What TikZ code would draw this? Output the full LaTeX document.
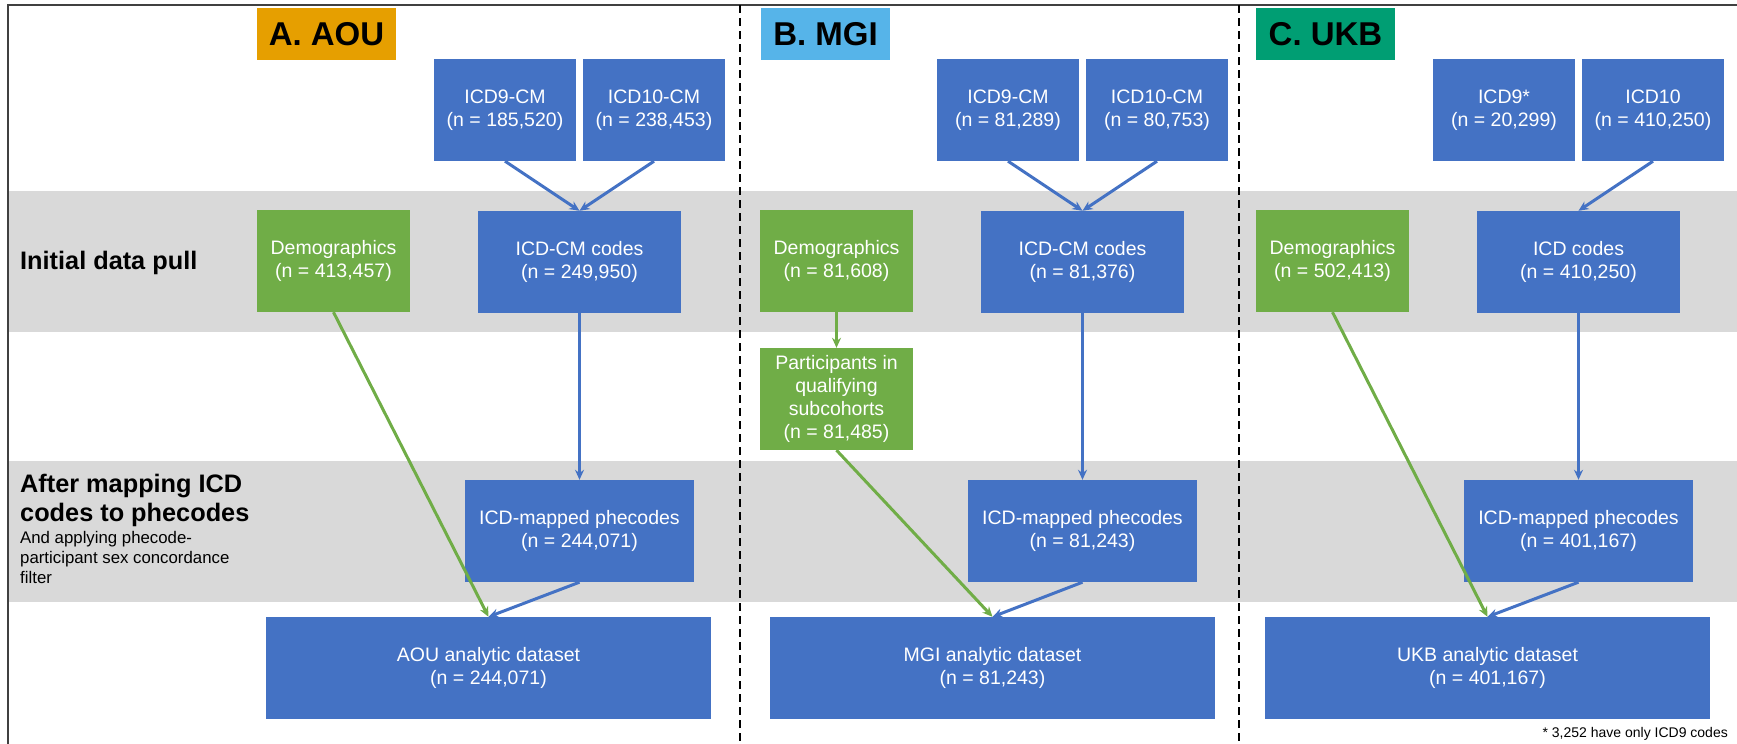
\documentclass[tikz,border=0pt]{standalone}
\usepackage{fontspec}
\setmainfont{Liberation Sans}
\usetikzlibrary{arrows.meta}
\definecolor{boxblue}{HTML}{4472C4}
\definecolor{boxgreen}{HTML}{70AD47}
\definecolor{bandgrey}{HTML}{D9D9D9}
\definecolor{aouorange}{HTML}{E69F00}
\definecolor{mgiblue}{HTML}{56B4E9}
\definecolor{ukbgreen}{HTML}{009E73}
\begin{document}
\begin{tikzpicture}[x=1pt, y=-1pt,
	bluebox/.style={fill=boxblue, text=white, align=center, inner sep=0pt, minimum height=102pt, font=\fontsize{19.5}{23}\selectfont},
	greenbox/.style={bluebox, fill=boxgreen},
	title/.style={inner sep=0pt, minimum height=52pt, font=\fontsize{33}{36}\selectfont\bfseries},
	bluearrow/.style={draw=boxblue, line width=3pt, -{Stealth[length=10pt,width=9pt]}},
	greenarrow/.style={bluearrow, draw=boxgreen},
	divider/.style={line width=2pt, dash pattern=on 8pt off 5pt},
	rowlabel/.style={anchor=north west, inner sep=0pt, align=left, font=\fontsize{25.3}{28.5}\selectfont\bfseries}]
	\useasboundingbox (0,0) rectangle (1737,744);
	% bands and frame
	\fill[bandgrey] (8,191) rectangle (1737,332);
	\fill[bandgrey] (8,461) rectangle (1737,602);
	\draw[line width=2pt, black!75] (8,744) -- (8,5) -- (1737,5);
	\draw[divider] (740,5) -- (740,744);
	\draw[divider] (1239,5) -- (1239,744);
	% row labels
	\node[rowlabel, anchor=west] (initial) at (20,263) {Initial data pull};
	\node[rowlabel] (mapping) at (20,474) {After mapping ICD\\codes to phecodes};
	\node[anchor=north west, inner sep=0pt, align=left, font=\fontsize{16.8}{20}\selectfont] (filter) at (20,531) {And applying phecode-\\participant sex concordance\\filter};
	% A. AOU
	\node[title, fill=aouorange, minimum width=139pt] (A_title) at (326.5,34) {A. AOU};
	\node[bluebox, minimum width=142pt] (A_icd9) at (505,110) {ICD9-CM\\(n = 185,520)};
	\node[bluebox, minimum width=142pt] (A_icd10) at (654,110) {ICD10-CM\\(n = 238,453)};
	\node[greenbox, minimum width=153pt] (A_demo) at (333.5,261) {Demographics\\(n = 413,457)};
	\node[bluebox, minimum width=203pt] (A_icdcm) at (579.5,262) {ICD-CM codes\\(n = 249,950)};
	\node[bluebox, minimum width=229pt] (A_phe) at (579.5,531) {ICD-mapped phecodes\\(n = 244,071)};
	\node[bluebox, minimum width=445pt] (A_out) at (488.5,668) {AOU analytic dataset\\(n = 244,071)};
	\draw[bluearrow] (A_icd9.south) -- (A_icdcm.north);
	\draw[bluearrow] (A_icd10.south) -- (A_icdcm.north);
	\draw[bluearrow] (A_icdcm.south) -- (A_phe.north);
	\draw[bluearrow] (A_phe.south) -- (A_out.north);
	\draw[greenarrow] (A_demo.south) -- (A_out.north);
	% B. MGI
	\node[title, fill=mgiblue, minimum width=129pt] (B_title) at (825.5,34) {B. MGI};
	\node[bluebox, minimum width=142pt] (B_icd9) at (1008,110) {ICD9-CM\\(n = 81,289)};
	\node[bluebox, minimum width=142pt] (B_icd10) at (1157,110) {ICD10-CM\\(n = 80,753)};
	\node[greenbox, minimum width=153pt] (B_demo) at (836.5,261) {Demographics\\(n = 81,608)};
	\node[greenbox, minimum width=153pt] (B_part) at (836.5,399) {Participants in\\qualifying\\subcohorts\\(n = 81,485)};
	\node[bluebox, minimum width=203pt] (B_icdcm) at (1082.5,262) {ICD-CM codes\\(n = 81,376)};
	\node[bluebox, minimum width=229pt] (B_phe) at (1082.5,531) {ICD-mapped phecodes\\(n = 81,243)};
	\node[bluebox, minimum width=445pt] (B_out) at (992.5,668) {MGI analytic dataset\\(n = 81,243)};
	\draw[bluearrow] (B_icd9.south) -- (B_icdcm.north);
	\draw[bluearrow] (B_icd10.south) -- (B_icdcm.north);
	\draw[bluearrow] (B_icdcm.south) -- (B_phe.north);
	\draw[bluearrow] (B_phe.south) -- (B_out.north);
	\draw[greenarrow] (B_demo.south) -- (B_part.north);
	\draw[greenarrow] (B_part.south) -- (B_out.north);
	% C. UKB
	\node[title, fill=ukbgreen, minimum width=139pt] (C_title) at (1325.5,34) {C. UKB};
	\node[bluebox, minimum width=142pt] (C_icd9) at (1504,110) {ICD9*\\(n = 20,299)};
	\node[bluebox, minimum width=142pt] (C_icd10) at (1653,110) {ICD10\\(n = 410,250)};
	\node[greenbox, minimum width=153pt] (C_demo) at (1332.5,261) {Demographics\\(n = 502,413)};
	\node[bluebox, minimum width=203pt] (C_icd) at (1578.5,262) {ICD codes\\(n = 410,250)};
	\node[bluebox, minimum width=229pt] (C_phe) at (1578.5,531) {ICD-mapped phecodes\\(n = 401,167)};
	\node[bluebox, minimum width=445pt] (C_out) at (1487.5,668) {UKB analytic dataset\\(n = 401,167)};
	\draw[bluearrow] (C_icd10.south) -- (C_icd.north);
	\draw[bluearrow] (C_icd.south) -- (C_phe.north);
	\draw[bluearrow] (C_phe.south) -- (C_out.north);
	\draw[greenarrow] (C_demo.south) -- (C_out.north);
	\node[anchor=base east, inner sep=0pt, font=\fontsize{14}{16}\selectfont] (note) at (1728,737) {* 3,252 have only ICD9 codes};
\end{tikzpicture}
\end{document}
